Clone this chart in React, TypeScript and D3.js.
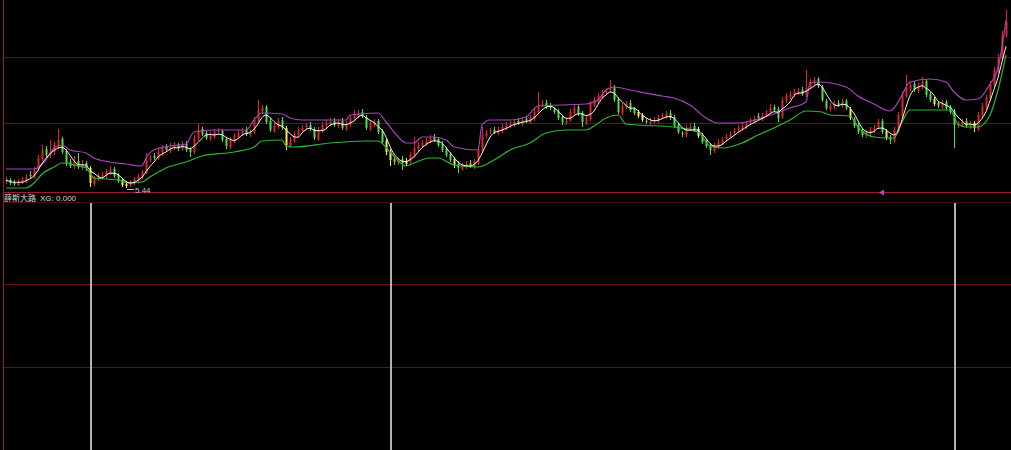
import React from "react";
import * as d3 from "d3";

// ---- data (prices) ----
const openP = [
  5.74,5.84,5.69,5.59,5.74,5.79,6.09,5.99,6.39,6.89,
  7.39,7.04,7.24,7.54,7.89,7.29,6.74,6.49,6.79,6.44,
  6.69,6.44,5.64,5.89,5.99,6.04,6.19,6.39,6.09,5.84,
  5.54,5.59,5.69,5.84,5.99,6.24,6.84,7.04,6.94,7.19,
  7.49,7.29,7.44,7.59,7.39,7.64,7.39,7.24,7.89,8.39,
  8.19,7.89,7.99,8.24,8.29,7.89,7.49,7.79,7.99,8.14,
  8.34,8.09,8.24,8.79,9.29,9.49,8.79,8.29,8.49,8.84,
  8.44,7.54,7.79,8.09,8.29,8.49,8.59,8.39,7.89,8.29,
  8.54,8.64,8.79,8.54,8.79,8.39,8.59,8.89,9.04,9.24,
  8.99,8.39,8.59,8.79,8.29,7.79,7.29,6.89,6.69,6.89,
  6.64,6.74,7.04,7.39,7.54,7.64,7.79,7.99,7.89,7.64,
  7.39,7.14,6.89,6.64,6.39,6.49,6.69,6.49,6.69,7.29,
  8.04,8.24,8.34,8.19,8.29,8.44,8.54,8.59,8.79,8.64,
  8.89,8.74,8.89,9.19,9.59,9.69,9.54,9.39,9.29,8.99,
  8.69,8.84,9.19,9.49,9.19,8.69,8.89,9.59,9.79,9.99,
  10.24,10.34,10.49,9.89,9.19,9.49,9.69,9.39,9.24,9.09,
  8.79,8.69,8.74,8.79,8.99,8.99,9.19,8.99,8.59,8.19,
  8.09,8.39,8.54,8.39,8.09,7.79,7.59,7.29,7.49,7.69,
  7.89,8.04,8.19,8.34,8.39,8.49,8.69,8.74,9.04,8.89,
  9.09,9.24,9.49,9.39,8.99,9.79,9.99,10.09,10.19,10.34,
  10.09,10.49,10.69,10.89,10.49,9.79,9.39,9.49,9.69,9.54,
  9.79,9.39,8.89,8.59,8.29,8.04,8.14,8.29,8.49,8.79,
  8.29,7.99,7.79,8.29,9.04,10.04,10.39,10.64,10.29,10.49,
  10.79,10.14,9.89,9.69,9.49,9.74,9.49,9.29,8.54,8.59,
  8.79,8.49,8.69,8.39,9.04,9.49,9.89,10.59,11.29,11.89,
  13.04,
];
const closeP = [
  5.84,5.69,5.64,5.74,5.84,5.99,6.04,6.34,6.94,7.34,
  7.09,7.24,7.59,7.84,7.24,6.69,6.54,6.74,6.49,6.64,
  6.44,5.69,5.94,6.04,6.09,6.24,6.34,6.04,5.79,5.59,
  5.64,5.74,5.89,6.04,6.24,6.84,6.94,6.94,7.24,7.44,
  7.34,7.49,7.54,7.44,7.59,7.34,7.24,7.94,8.34,8.14,
  7.94,8.04,8.24,8.29,7.84,7.54,7.84,8.04,8.19,8.29,
  8.14,8.24,8.84,9.34,9.44,8.74,8.34,8.54,8.79,8.44,
  7.59,7.84,8.14,8.34,8.44,8.54,8.39,7.94,8.34,8.59,
  8.69,8.74,8.59,8.74,8.44,8.64,8.94,9.14,9.19,9.04,
  8.44,8.64,8.74,8.24,7.74,7.24,6.84,6.74,6.84,6.69,
  6.79,7.09,7.44,7.59,7.69,7.74,7.94,7.84,7.59,7.34,
  7.09,6.84,6.59,6.44,6.54,6.64,6.54,6.74,7.34,8.09,
  8.19,8.29,8.24,8.34,8.49,8.59,8.64,8.74,8.69,8.84,
  8.79,8.94,9.24,9.54,9.64,9.49,9.44,9.24,8.94,8.74,
  8.79,9.24,9.44,9.14,8.74,8.94,9.64,9.84,10.04,10.19,
  10.29,10.44,9.84,9.24,9.54,9.64,9.34,9.19,9.04,8.84,
  8.74,8.79,8.84,8.94,9.04,9.14,8.94,8.54,8.24,8.14,
  8.44,8.49,8.34,8.04,7.74,7.54,7.34,7.54,7.74,7.84,
  7.99,8.14,8.29,8.44,8.54,8.64,8.79,8.89,8.94,9.04,
  9.19,9.44,9.34,8.94,9.84,10.04,10.14,10.24,10.29,10.14,
  10.44,10.74,10.84,10.54,9.84,9.44,9.54,9.64,9.59,9.74,
  9.44,8.94,8.54,8.24,8.09,8.19,8.34,8.44,8.74,8.24,
  7.94,7.84,8.34,9.09,10.09,10.44,10.59,10.34,10.54,10.74,
  10.09,9.84,9.64,9.54,9.69,9.44,9.24,8.59,8.64,8.74,
  8.54,8.64,8.44,9.09,9.54,9.94,10.64,11.34,11.94,13.09,
  13.74,
];
const highP = [
  5.99,5.94,5.84,5.89,5.99,6.14,6.29,6.49,7.09,7.59,
  7.54,7.84,7.74,8.39,7.99,7.39,6.89,7.04,7.19,6.84,
  6.79,6.54,6.04,6.19,6.24,6.39,6.54,6.49,6.19,5.94,
  5.79,5.84,5.99,6.14,6.34,7.19,7.09,7.19,7.39,7.59,
  7.64,7.69,7.74,7.69,7.79,7.79,7.49,8.09,8.64,8.49,
  8.29,8.24,8.39,8.44,8.39,7.99,7.99,8.19,8.34,8.44,
  8.49,8.39,8.99,9.84,9.59,9.59,8.94,8.69,8.94,8.99,
  8.54,7.99,8.29,8.49,8.59,8.69,8.74,8.49,8.49,8.74,
  8.84,8.94,8.94,8.89,8.94,8.79,9.09,9.34,9.34,9.39,
  9.09,8.79,8.89,8.89,8.39,7.89,7.39,6.99,6.99,7.04,
  6.94,7.24,7.99,7.74,7.84,7.94,8.09,8.14,7.99,7.79,
  7.49,7.24,6.99,6.79,6.69,6.79,6.84,6.89,7.49,8.49,
  8.34,8.44,8.49,8.49,8.64,8.74,8.79,8.89,8.94,8.99,
  9.04,9.09,9.39,10.24,9.84,9.84,9.69,9.49,9.39,9.09,
  8.94,9.39,9.59,9.59,9.29,9.09,9.79,9.99,10.19,10.34,
  10.44,10.84,10.59,9.99,9.69,9.79,9.84,9.49,9.34,9.19,
  8.94,8.94,8.99,9.09,9.19,9.29,9.34,9.09,8.69,8.29,
  8.59,8.64,8.69,8.49,8.19,7.89,7.69,7.69,7.89,7.99,
  8.14,8.29,8.44,8.59,8.69,8.79,8.94,9.04,9.19,9.19,
  9.34,9.64,9.59,9.49,9.99,10.19,10.29,10.39,10.44,10.49,
  11.34,10.89,10.99,10.99,10.59,9.89,9.69,9.79,9.84,9.89,
  9.89,9.49,8.99,8.69,8.39,8.34,8.49,8.59,8.89,8.89,
  8.39,8.09,8.49,9.24,10.24,11.09,10.74,10.79,10.69,10.99,
  10.89,10.24,9.99,9.79,9.84,9.84,9.59,9.39,8.79,8.89,
  8.94,8.79,8.79,9.24,9.69,10.09,10.79,11.49,12.14,13.29,
  14.34,
];
const lowP = [
  5.64,5.59,5.54,5.54,5.64,5.69,5.94,5.89,6.29,6.79,
  6.94,6.94,7.09,7.39,7.14,6.54,6.44,6.39,6.39,6.34,
  6.29,5.49,5.54,5.79,5.89,5.94,6.09,5.94,5.69,5.49,
  5.44,5.49,5.59,5.74,5.89,6.14,6.74,6.84,6.84,7.04,
  7.24,7.19,7.34,7.29,7.29,7.24,6.99,7.14,7.79,8.04,
  7.84,7.79,7.89,8.14,7.74,7.39,7.39,7.69,7.89,8.04,
  8.04,7.99,8.14,8.69,9.14,8.64,8.24,8.19,8.39,8.34,
  7.34,7.44,7.69,7.99,8.19,8.39,8.29,7.84,7.79,8.19,
  8.44,8.54,8.49,8.44,8.34,8.29,8.49,8.79,8.94,8.94,
  8.34,8.29,8.49,8.14,7.64,7.09,6.54,6.59,6.59,6.34,
  6.54,6.64,6.94,7.29,7.44,7.54,7.69,7.74,7.49,7.24,
  6.99,6.74,6.44,6.19,6.29,6.39,6.44,6.39,6.59,7.19,
  7.94,8.14,8.14,8.09,8.19,8.34,8.44,8.49,8.59,8.54,
  8.69,8.64,8.79,9.09,9.49,9.39,9.34,9.14,8.84,8.59,
  8.59,8.74,9.09,9.04,8.49,8.59,8.79,9.49,9.69,9.89,
  10.14,10.24,9.74,9.14,9.09,9.39,9.24,9.09,8.94,8.74,
  8.64,8.59,8.64,8.69,8.89,8.89,8.84,8.44,8.14,7.99,
  7.99,8.29,8.24,7.94,7.64,7.44,7.09,7.19,7.39,7.59,
  7.79,7.94,8.09,8.24,8.29,8.39,8.59,8.64,8.84,8.79,
  8.99,9.14,9.24,8.74,8.89,9.69,9.89,9.99,10.09,10.04,
  9.99,10.39,10.59,10.44,9.74,9.34,9.29,9.39,9.49,9.44,
  9.34,8.84,8.44,8.14,7.99,7.94,8.04,8.19,8.39,8.14,
  7.84,7.64,7.69,8.19,8.94,9.94,10.29,10.24,10.19,10.39,
  9.99,9.74,9.54,9.44,9.39,9.34,9.14,7.44,8.44,8.49,
  8.44,8.39,8.24,8.29,8.94,9.39,9.79,10.49,11.19,11.79,
  12.94,
];
// bars the indicator paints yellow
const yellowBars = [21, 29, 30, 70, 95, 96, 100, 112, 158, 159, 173, 211, 220, 232, 242];

// upper (magenta) channel line
const upperIdx = [0,7,10,12,14,16,20,22,26,30,34,35,37,41,45,47,52,60,62,64,69,71,74,85,86,93,95,97,100,102,104,107,110,112,118,119,121,126,130,133,145,148,150,152,156,164,167,171,175,178,183,188,192,196,200,201,203,210,213,217,221,222,224,226,231,235,237,240,243,246,248,250];
const upperVal = [6.39,6.39,6.84,7.44,7.59,7.34,7.19,6.94,6.74,6.64,6.54,6.94,7.34,7.54,7.64,8.24,8.34,8.34,8.84,9.19,9.14,8.94,8.84,8.84,9.09,9.19,8.74,8.24,7.69,7.69,7.99,7.99,7.84,7.49,7.34,8.59,8.84,8.84,8.99,9.54,9.64,9.84,10.34,10.49,10.34,10.04,9.94,9.59,8.94,8.69,8.69,8.89,9.14,9.44,9.74,10.69,10.74,10.49,10.04,9.64,9.29,9.44,10.09,10.74,10.89,10.74,10.24,9.84,9.89,10.64,11.44,13.84];

// lower (green) channel line
const lowerIdx = [0,5,7,9,12,14,17,20,22,28,31,34,36,40,45,49,57,62,64,69,70,72,81,90,93,96,100,102,106,108,112,118,122,126,131,135,140,145,147,150,153,155,158,167,173,176,179,184,188,192,196,200,204,206,211,213,217,220,222,224,226,236,238,240,243,246,248,250];
const lowerVal = [5.44,5.44,5.69,6.14,6.49,6.69,6.59,6.44,5.94,5.84,5.69,5.74,5.99,6.44,6.74,7.04,7.24,7.49,7.79,7.84,7.54,7.49,7.69,7.79,7.79,7.24,6.54,6.69,6.94,6.94,6.59,6.49,6.84,7.34,7.69,8.19,8.34,8.34,8.54,8.94,9.09,8.64,8.59,8.49,8.24,7.54,7.44,7.69,8.09,8.44,8.84,9.29,9.24,9.09,9.04,8.49,7.99,7.94,7.94,8.74,9.34,9.34,8.64,8.49,8.49,9.09,10.34,12.09];

// XG signal bars (value 1) in the lower panel
const xgSignalIdx = [21, 96, 237];
const indicatorName = "薛斯大路";
const xgLabel = "XG: 0.000";

const RED = "#dc2626";
const GREEN = "#52dc46";
const YELLOW = "#f4ec48";
const WHITE = "#f2f2f2";
const MAGENTA = "#a844bc";
const CHAN_GREEN = "#2cb82c";
const GRID = "#6a0c1a";
const FRAME = "#a0182c";

export default function App() {
  const W = 1011;
  const H = 450;
  const n = closeP.length;
  const x = d3.scaleLinear().domain([0, n - 1]).range([6, 1006]);
  const y = d3.scaleLinear().domain([5.44, 14.34]).range([188, 10]);
  const ySub = d3.scaleLinear().domain([0, 1]).range([H, 203]);
  const yellowSet = new Set(yellowBars);

  const ma = closeP.map((_, i) => d3.mean(closeP.slice(Math.max(0, i - 3), i + 1)) as number);

  const upperLine = d3
    .line<number>()
    .x((_, k) => x(upperIdx[k]))
    .y((d) => y(d))
    .curve(d3.curveMonotoneX)(upperVal) || "";
  const lowerLine = d3
    .line<number>()
    .x((_, k) => x(lowerIdx[k]))
    .y((d) => y(d))
    .curve(d3.curveMonotoneX)(lowerVal) || "";
  const maLine = d3
    .line<number>()
    .x((_, i) => x(i))
    .y((d) => y(d))
    .curve(d3.curveMonotoneX)(ma) || "";

  const lowIdx = d3.minIndex(lowP);
  const lowVal = lowP[lowIdx];

  return (
    <div style={{ position: "fixed", left: 0, top: 0, width: W, height: H, background: "#000" }}>
      <svg width={W} height={H} style={{ display: "block", background: "#000" }}>
        {/* grid & frame */}
        {[57, 123, 284, 367].map((gy) => (
          <line key={gy} x1={3} x2={W} y1={gy + 0.5} y2={gy + 0.5} stroke={GRID} strokeWidth={1} />
        ))}
        <line x1={3} x2={W} y1={192.5} y2={192.5} stroke={FRAME} strokeWidth={1} />
        <line x1={3} x2={W} y1={202.5} y2={202.5} stroke="#4a0a14" strokeWidth={1} />
        <line x1={3.5} x2={3.5} y1={0} y2={H} stroke={FRAME} strokeWidth={1} />

        {/* candles */}
        {closeP.map((c, i) => {
          const o = openP[i];
          const xi = Math.round(x(i));
          const color = yellowSet.has(i) ? YELLOW : c > o ? RED : c < o ? GREEN : WHITE;
          const yTop = y(Math.max(o, c));
          const yBot = y(Math.min(o, c));
          return (
            <g key={i}>
              <line x1={xi + 0.5} x2={xi + 0.5} y1={y(highP[i])} y2={y(lowP[i])} stroke={color} strokeWidth={1} />
              <rect x={xi - 0.5} y={yTop} width={2} height={Math.max(1, yBot - yTop)} fill={color} />
            </g>
          );
        })}

        {/* channel lines */}
        <path d={upperLine} fill="none" stroke={MAGENTA} strokeWidth={1.2} />
        <path d={lowerLine} fill="none" stroke={CHAN_GREEN} strokeWidth={1.2} />
        <path d={maLine} fill="none" stroke={WHITE} strokeWidth={1} />

        {/* lowest price marker */}
        <line
          x1={x(lowIdx) + 1}
          x2={x(lowIdx) + 8}
          y1={y(lowVal) + 1.5}
          y2={y(lowVal) + 1.5}
          stroke="#bdbdbd"
          strokeWidth={1}
        />
        <text
          x={x(lowIdx) + 9}
          y={y(lowVal) + 4.5}
          fill="#c4c4c4"
          fontSize={8}
          fontFamily="'Liberation Sans', 'Noto Sans', sans-serif"
        >
          {lowVal.toFixed(2)}
        </text>

        {/* small magenta marker on the divider */}
        <path d="M 879 192.5 L 884 189.5 L 884 195.5 Z" fill="#c040d0" />

        {/* indicator title */}
        <text x={4} y={201} fill="#d8d8d8" fontSize={8} fontFamily="'Liberation Sans', 'Noto Sans CJK SC', sans-serif">
          <tspan>{indicatorName}</tspan>
          <tspan dx={4}>{xgLabel}</tspan>
        </text>

        {/* XG signals */}
        {xgSignalIdx.map((i) => (
          <line
            key={i}
            x1={Math.round(x(i)) + 1}
            x2={Math.round(x(i)) + 1}
            y1={ySub(1)}
            y2={ySub(0)}
            stroke="#dedede"
            strokeWidth={1.6}
          />
        ))}
      </svg>
    </div>
  );
}
